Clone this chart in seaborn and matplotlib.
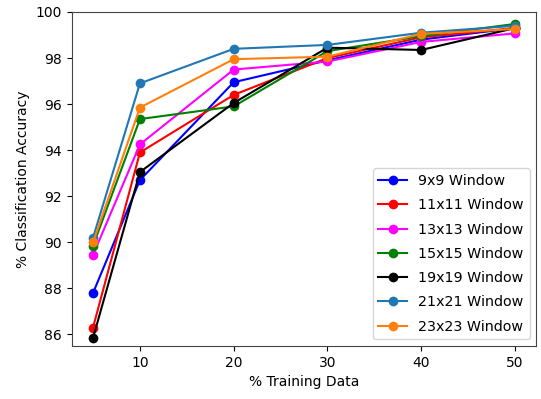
import pandas as pd
import matplotlib
matplotlib.use("Agg")
import matplotlib.pyplot as plt
import seaborn as sns

# % training data on x axis
train_pct = [5, 10, 20, 30, 40, 50]

# accuracy per window size
acc_9x9 = [87.8, 92.7, 96.95, 97.9, 98.8, 99.3]
acc_11x11 = [86.3, 93.9, 96.4, 98.0, 98.9, 99.3]
acc_13x13 = [89.45, 94.25, 97.5, 97.85, 98.7, 99.07]
acc_15x15 = [89.85, 95.35, 95.9, 98.3, 98.95, 99.48]
acc_19x19 = [85.85, 93.05, 96.05, 98.45, 98.35, 99.3]
acc_21x21 = [90.2, 96.9, 98.4, 98.57, 99.1, 99.4]
acc_23x23 = [90.0, 95.85, 97.95, 98.06, 99.05, 99.26]

labels = ["9x9 Window", "11x11 Window", "13x13 Window", "15x15 Window",
          "19x19 Window", "21x21 Window", "23x23 Window"]
colors = ["blue", "red", "magenta", "green", "black", "#1f77b4", "#ff7f0e"]
series = [acc_9x9, acc_11x11, acc_13x13, acc_15x15, acc_19x19, acc_21x21, acc_23x23]

rows = []
for lab, vals in zip(labels, series):
    for x, y in zip(train_pct, vals):
        rows.append({"train": x, "acc": y, "window": lab})
df = pd.DataFrame(rows)

fig, ax = plt.subplots(figsize=(5.41, 3.99), dpi=100)
fig.subplots_adjust(left=0.133, right=0.991, top=0.97, bottom=0.133)

sns.lineplot(data=df, x="train", y="acc", hue="window", hue_order=labels,
             palette=dict(zip(labels, colors)), marker="o", markersize=7,
             markeredgewidth=0, linewidth=1.5, ax=ax)

ax.set_ylim(85.5, 100)
ax.set_xlabel("% Training Data")
ax.set_ylabel("% Classification Accuracy")
ax.set_xticks([10, 20, 30, 40, 50])
ax.set_yticks([86, 88, 90, 92, 94, 96, 98, 100])
for s in ax.spines.values():
    s.set_color("#444444")
ax.legend(loc="lower right", fontsize=10.3, labelspacing=0.72,
          borderaxespad=0.45)

fig.savefig("out.png", dpi=100)
